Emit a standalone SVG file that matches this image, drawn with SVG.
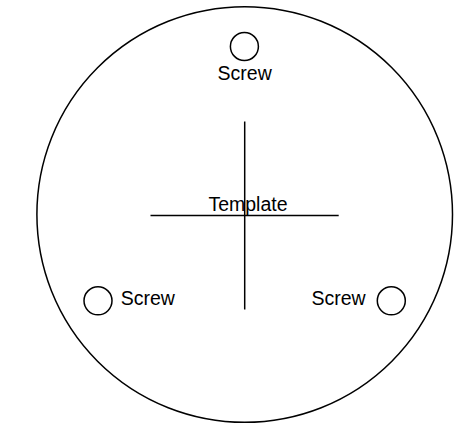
<svg xmlns="http://www.w3.org/2000/svg" width="466" height="424" viewBox="0 0 466 424">
<style>
.shape{fill:none;stroke:#000;stroke-width:1.5}
.ln{stroke:#000;stroke-width:1.5}
.lbl{font-family:"Liberation Sans",Arial,sans-serif;font-size:19.5px;fill:#000}
</style>
<rect width="466" height="424" fill="#fff"/>
<g id="base">
<circle class="shape" cx="244.7" cy="214.5" r="207.8"/>
</g>
<g id="connectors">
<line class="ln" x1="244.7" y1="121.5" x2="244.7" y2="309.5"/>
<line class="ln" x1="150.5" y1="215.5" x2="338.7" y2="215.5"/>
</g>
<g id="template">
<text class="lbl" x="248" y="210.5" text-anchor="middle" font-size="19px">Template</text>
</g>
<g id="screw-top">
<circle class="shape" cx="244.4" cy="46.5" r="14"/>
<text class="lbl" x="244.7" y="80" text-anchor="middle">Screw</text>
</g>
<g id="screw-left">
<circle class="shape" cx="98" cy="300.8" r="14"/>
<text class="lbl" x="120.7" y="304.5">Screw</text>
</g>
<g id="screw-right">
<circle class="shape" cx="391.3" cy="300.8" r="14"/>
<text class="lbl" x="365.7" y="304.5" text-anchor="end">Screw</text>
</g>
</svg>
